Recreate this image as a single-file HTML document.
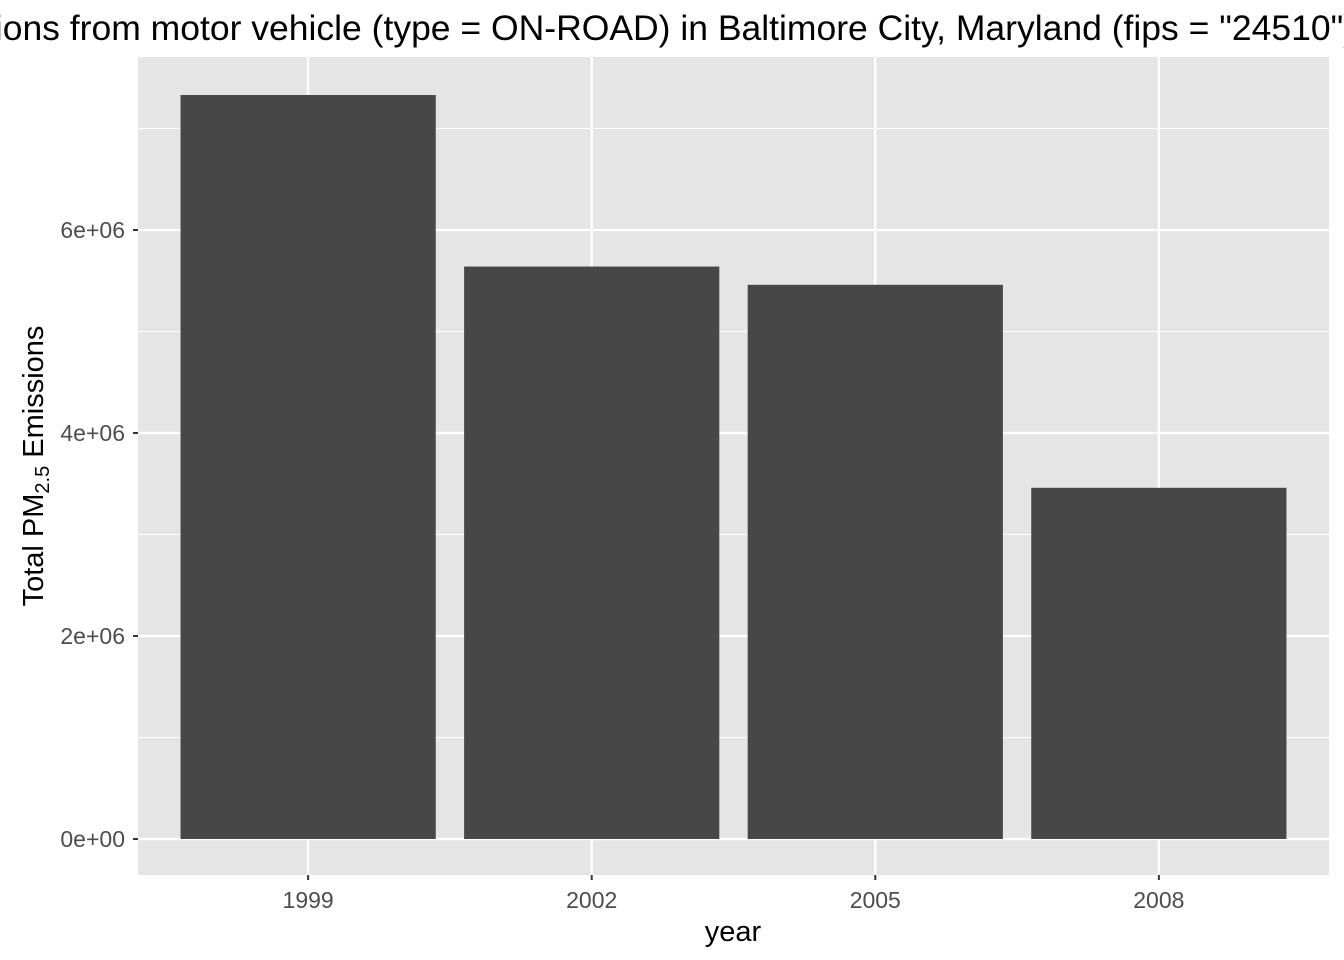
<!DOCTYPE html>
<html><head><meta charset="utf-8"><style>
body{margin:0;background:#fff;}
svg{display:block;font-family:"Liberation Sans",Arial,sans-serif;}
</style></head><body>
<svg id="chart" width="1344" height="960">
<text x="1355" y="40" text-anchor="end" font-size="35.5" fill="#000">Total PM2.5 Emissions from motor vehicle (type = ON-ROAD) in Baltimore City, Maryland (fips = "24510")</text>
<rect x="138" y="57" width="1191" height="818" fill="#e5e5e5"/>
<g id="grid"></g><g id="bars"></g><g id="axes"></g>
<text x="733" y="941" text-anchor="middle" font-size="29" fill="#000">year</text>
<text transform="translate(43,466) rotate(-90)" text-anchor="middle" font-size="29" fill="#000">Total PM<tspan font-size="20" dy="6">2.5</tspan><tspan dy="-6"> Emissions</tspan></text>
</svg>
<script>
const categories = ["1999","2002","2005","2008"];
const values = [7330000, 5640000, 5460000, 3460000];
const yTicks = [0, 2000000, 4000000, 6000000];
const yTickLabels = ["0e+00","2e+06","4e+06","6e+06"];
const NS="http://www.w3.org/2000/svg";
const L=138,R=1329,T=57,B=875;
const y0=839, pxPer=101.5/1e6;
function y(v){return y0-v*pxPer;}
const step=(R-L)/(categories.length-1+1.2);
function x(i){return L+step*(0.6+i);}
function mk(p,tag,a){const e=document.createElementNS(NS,tag);for(const k in a)e.setAttribute(k,a[k]);p.appendChild(e);return e;}
const grid=document.getElementById('grid'),bars=document.getElementById('bars'),axes=document.getElementById('axes');
for(let i=0;i<yTicks.length;i++){
  const m=(yTicks[i]+(yTicks[1]-yTicks[0])/2);
  if(y(m)>T){const g=mk(grid,'line',{x1:L,x2:R,y1:y(m),y2:y(m),stroke:'#fff','stroke-width':1});

}
  const g=mk(grid,'line',{x1:L,x2:R,y1:y(yTicks[i]),y2:y(yTicks[i]),stroke:'#fff','stroke-width':2.2});


  const t=mk(axes,'line',{x1:L-5,x2:L,y1:y(yTicks[i]),y2:y(yTicks[i]),stroke:'#333','stroke-width':2});


  const lb=mk(axes,'text',{x:L-13,y:y(yTicks[i])+8,'text-anchor':'end','font-size':23,fill:'#4d4d4d'});


  lb.textContent=yTickLabels[i];
}
categories.forEach((c,i)=>{
  const g=mk(grid,'line',{x1:x(i),x2:x(i),y1:T,y2:B,stroke:'#fff','stroke-width':2.2});


  const w=step*0.9;
  const b=mk(bars,'rect',{x:x(i)-w/2,y:y(values[i]),width:w,height:y(0)-y(values[i]),fill:'#474747'});


  const t=mk(axes,'line',{x1:x(i),x2:x(i),y1:B,y2:B+5,stroke:'#333','stroke-width':2});


  const lb=mk(axes,'text',{x:x(i),y:B+33,'text-anchor':'middle','font-size':23,fill:'#4d4d4d'});


  lb.textContent=c;
});
</script>
</body></html>
